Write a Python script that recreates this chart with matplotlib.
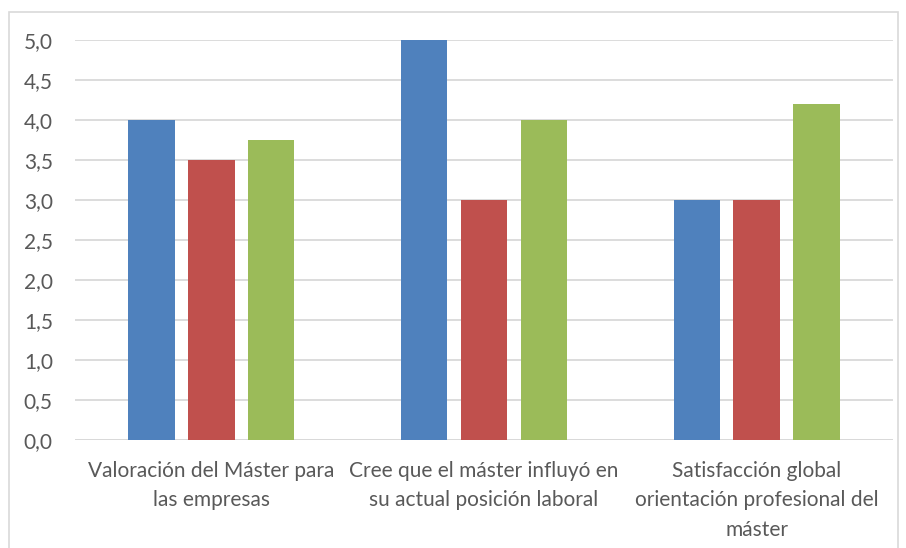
import numpy as np
import matplotlib
matplotlib.use("Agg")
import matplotlib.pyplot as plt
from matplotlib.patches import Rectangle

categories = ["Valoración del Máster para\nlas empresas",
              "Cree que el máster influyó en\nsu actual posición laboral",
              "Satisfacción global\norientación profesional del\nmáster"]
serie1 = [4.0, 5.0, 3.0]
serie2 = [3.5, 3.0, 3.0]
serie3 = [3.75, 4.0, 4.2]
colors = ['#4F81BD', '#C0504D', '#9BBB59']

plt.rcParams['font.family'] = ['Lato', 'DejaVu Sans']

fig = plt.figure(figsize=(9.06, 5.48), dpi=100)
ax = fig.add_axes([75/906, 1-440/548, (893-75)/906, 400/548])

x = np.arange(len(categories))
w = 0.17
for i, vals in enumerate([serie1, serie2, serie3]):
    ax.bar(x + (i-1)*0.22, vals, width=w, color=colors[i], zorder=3)

ax.set_xlim(-0.5, 2.5)
ax.set_ylim(0, 5)
ticks = np.arange(0, 5.01, 0.5)
ax.set_yticks(ticks)
ax.set_yticklabels(["{:.1f}".format(v).replace('.', ',') for v in ticks])
ax.set_xticks(x)
ax.set_xticklabels(categories, linespacing=1.6)
ax.grid(axis='y', color='#D9D9D9', linewidth=1.3, zorder=0)
for s in ax.spines.values():
    s.set_visible(False)
ax.axhline(0, color='#D9D9D9', linewidth=1.3, zorder=1)
ax.tick_params(axis='both', length=0, labelsize=15, colors='#595959')
ax.tick_params(axis='x', pad=15)
ax.tick_params(axis='y', pad=16)

fig.patches.append(Rectangle((9/906, -0.01), (898-9)/906, 1-12/548+0.01,
                             transform=fig.transFigure, fill=False,
                             edgecolor='#D9D9D9', linewidth=1.2))

fig.savefig("out.png", dpi=100)
